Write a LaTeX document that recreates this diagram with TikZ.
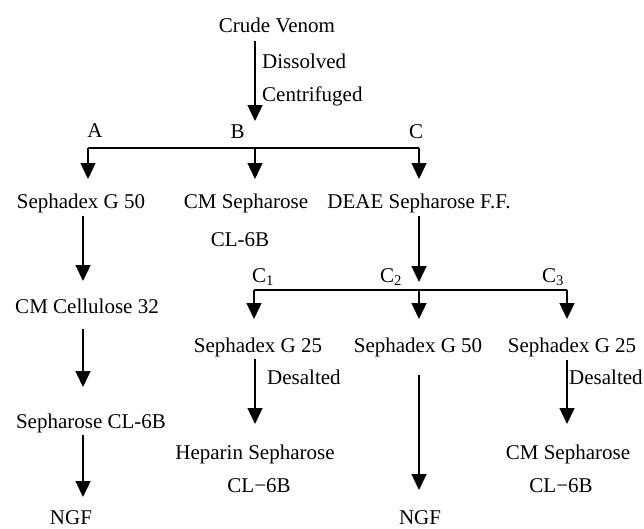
\documentclass[tikz,border=0pt]{standalone}
\usepackage{fontspec}
\setmainfont{Liberation Serif}
\usetikzlibrary{arrows.meta}
\begin{document}
\begin{tikzpicture}[x=1pt,y=-1pt,
  lbl/.style={inner sep=0pt,anchor=base,font=\fontsize{21}{25}\selectfont},
  lblw/.style={lbl,anchor=base west},
  conn/.style={line width=1.3pt},
  arr/.style={conn,-{Triangle[width=15pt,length=16pt]}}]
\useasboundingbox (0,0) rectangle (644,528);
% texts
\node[lbl] (cv) at (277,32) {Crude Venom};
\node[lblw] (dis) at (262,68) {Dissolved};
\node[lblw] (cen) at (262,101) {Centrifuged};
\node[lbl] (la) at (95,137) {A};
\node[lbl] (lb) at (237.5,138) {B};
\node[lbl] (lc) at (416,138) {C};
\node[lbl] (sg50a) at (81,208) {Sephadex G 50};
\node[lbl] (cms) at (246,208) {CM Sepharose};
\node[lbl] (cl6ba) at (240,246) {CL-6B};
\node[lbl] (deae) at (419,208) {DEAE Sepharose F.F.};
\node[lbl] (cmc) at (87,313) {CM Cellulose 32};
\node[lbl] (scl) at (91,428) {Sepharose CL-6B};
\node[lbl] (ngfa) at (71,524) {NGF};
\node[lblw] (c1) at (252,282) {C\textsubscript{1}};
\node[lblw] (c2) at (380,282) {C\textsubscript{2}};
\node[lblw] (c3) at (542,282) {C\textsubscript{3}};
\node[lbl] (sg25a) at (258,352) {Sephadex G 25};
\node[lbl] (sg50b) at (418,352) {Sephadex G 50};
\node[lbl] (sg25b) at (572,352) {Sephadex G 25};
\node[lblw] (desa) at (267,384) {Desalted};
\node[lblw] (desb) at (569,384) {Desalted};
\node[lbl] (hep) at (255,459) {Heparin Sepharose};
\node[lbl] (cl6bb) at (259,492) {CL−6B};
\node[lbl] (cmsb) at (568,459) {CM Sepharose};
\node[lbl] (cl6bc) at (561,492) {CL−6B};
\node[lbl] (ngfb) at (420,524) {NGF};
% coordinates
\coordinate (m0) at (255,41);
\coordinate (m1) at (255,121);
\coordinate (ha) at (88,148);
\coordinate (hb) at (255,148);
\coordinate (hc) at (419,148);
\coordinate (ta) at (88,179);
\coordinate (tb) at (255,179);
\coordinate (tc) at (419,179);
\coordinate (a1s) at (83,216);
\coordinate (a1e) at (83,281);
\coordinate (a2s) at (83,329);
\coordinate (a2e) at (83,387);
\coordinate (a3s) at (83,435);
\coordinate (a3e) at (83,497);
\coordinate (ds) at (419,216);
\coordinate (de) at (419,282);
\coordinate (h1) at (254,290);
\coordinate (h2) at (419,290);
\coordinate (h3) at (567,290);
\coordinate (t1) at (254,319);
\coordinate (t2) at (419,319);
\coordinate (t3) at (567,319);
\coordinate (b1s) at (255,359);
\coordinate (b1e) at (255,424);
\coordinate (b2s) at (419,375);
\coordinate (b2e) at (419,490);
\coordinate (b3s) at (567,360);
\coordinate (b3e) at (567,424);
% connectors
\draw[arr] (m0) -- (m1);
\draw[conn] (ha) -- (hc);
\draw[arr] (ha) -- (ta);
\draw[arr] (hb) -- (tb);
\draw[arr] (hc) -- (tc);
\draw[arr] (a1s) -- (a1e);
\draw[arr] (a2s) -- (a2e);
\draw[arr] (a3s) -- (a3e);
\draw[arr] (ds) -- (de);
\draw[conn] (h1) -- (h3);
\draw[arr] (h1) -- (t1);
\draw[arr] (h2) -- (t2);
\draw[arr] (h3) -- (t3);
\draw[arr] (b1s) -- (b1e);
\draw[arr] (b2s) -- (b2e);
\draw[arr] (b3s) -- (b3e);
\end{tikzpicture}
\end{document}
